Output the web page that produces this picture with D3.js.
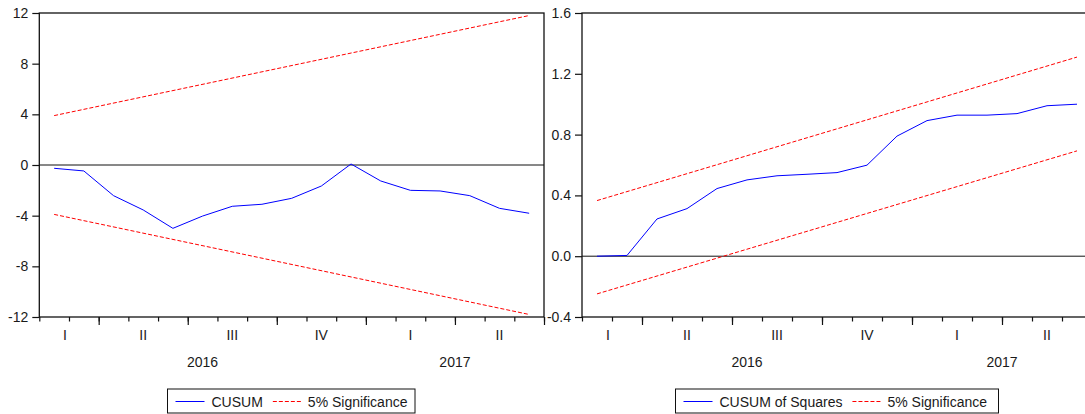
<!DOCTYPE html>
<html>
<head>
<meta charset="utf-8">
<script src="https://cdn.jsdelivr.net/npm/d3@7"></script>
<style>
  body { margin: 0; background: #fff; }
  svg { display: block; font-family: "Liberation Sans", Arial, sans-serif; }
</style>
</head>
<body>
<div id="chart"></div>
<script>
// months covered by the recursive residuals (Feb 2016 .. Jun 2017)
const months = [
  "2016-02", "2016-03", "2016-04", "2016-05", "2016-06", "2016-07", "2016-08", "2016-09",
  "2016-10", "2016-11", "2016-12", "2017-01", "2017-02", "2017-03", "2017-04", "2017-05", "2017-06"
];
const quarterNames = ["I", "II", "III", "IV"];

// CUSUM test
const cusum = [-0.26, -0.47, -2.42, -3.55, -5.0, -4.03, -3.26, -3.1, -2.63,
  -1.66, 0.08, -1.26, -2.0, -2.05, -2.42, -3.42, -3.81];
const cusumUpper = [3.9, 11.8];   // first and last month
const cusumLower = [-3.9, -11.8];

// CUSUM of squares test
const cusumSq = [0.0, 0.005, 0.245, 0.313, 0.445, 0.502, 0.529, 0.539, 0.55,
  0.599, 0.79, 0.892, 0.928, 0.928, 0.938, 0.99, 1.0];
const cusumSqUpper = [0.366, 1.31];
const cusumSqLower = [-0.248, 0.693];

const leftTicks = [-12, -8, -4, 0, 4, 8, 12];
const rightTicks = [-0.4, 0.0, 0.4, 0.8, 1.2, 1.6];

const width = 1085, height = 414;
const plotTop = 13, plotBottom = 317;
const font = 14;

const svg = d3.select("#chart").append("svg")
  .attr("width", width)
  .attr("height", height)
  .attr("viewBox", [0, 0, width, height]);

function drawPanel(opts) {
  const x = d3.scaleLinear().domain([0, months.length]).range([opts.left, opts.right]);
  const y = d3.scaleLinear().domain(opts.domain).range([plotBottom, plotTop]);
  const g = svg.append("g");

  // zero line
  g.append("line")
    .attr("x1", x(0)).attr("x2", x(months.length))
    .attr("y1", y(0)).attr("y2", y(0))
    .attr("stroke", "#111").attr("stroke-width", 1);

  // significance bounds (straight lines from first to last month)
  const ends = [0.5, months.length - 0.5];
  [opts.upper, opts.lower].forEach((b) => {
    g.append("line")
      .attr("x1", x(ends[0])).attr("y1", y(b[0]))
      .attr("x2", x(ends[1])).attr("y2", y(b[1]))
      .attr("stroke", "#ff0000").attr("stroke-width", 1)
      .attr("stroke-dasharray", "4,2");
  });

  // statistic
  const line = d3.line().x((d, i) => x(i + 0.5)).y((d) => y(d));
  g.append("path")
    .datum(opts.values)
    .attr("d", line)
    .attr("fill", "none")
    .attr("stroke", "#0000ff")
    .attr("stroke-width", 1);

  // frame
  g.append("rect")
    .attr("x", x(0)).attr("y", plotTop)
    .attr("width", x(months.length) - x(0)).attr("height", plotBottom - plotTop)
    .attr("fill", "none").attr("stroke", "#111").attr("stroke-width", 1.3);

  // y axis
  const yAxis = g.append("g")
    .attr("transform", `translate(${x(0)},0)`)
    .call(d3.axisLeft(y).tickValues(opts.ticks).tickSize(7).tickPadding(4)
      .tickFormat(opts.fmt));
  yAxis.select(".domain").remove();
  yAxis.selectAll("line").attr("stroke", "#111").attr("stroke-width", 1.2);
  yAxis.selectAll("text").attr("font-size", font).attr("fill", "#1a1a1a")
    .attr("font-family", "Liberation Sans, Arial, sans-serif");

  // x axis: month ticks and quarter ticks
  const bounds = d3.range(0, months.length + 1);
  const minor = g.append("g")
    .attr("transform", `translate(0,${plotBottom})`)
    .call(d3.axisBottom(x).tickValues(bounds).tickSize(4.5).tickFormat(""));
  const qStarts = bounds.filter((i) => {
    const m = i < months.length ? +months[i].slice(5) : 7;
    return (m - 1) % 3 === 0;
  });
  const major = g.append("g")
    .attr("transform", `translate(0,${plotBottom})`)
    .call(d3.axisBottom(x).tickValues(qStarts).tickSize(8).tickFormat(""));
  [minor, major].forEach((a) => {
    a.select(".domain").remove();
    a.selectAll("line").attr("stroke", "#111").attr("stroke-width", 1.2);
  });

  // quarter labels
  const quarters = d3.groups(months.map((m, i) => ({ m, i })),
    (d) => d.m.slice(0, 4) + "Q" + Math.floor((+d.m.slice(5) - 1) / 3));
  quarters.forEach(([key, items]) => {
    const q = +key.slice(5);
    const c = (x(items[0].i) + x(items[items.length - 1].i + 1)) / 2;
    g.append("text")
      .attr("x", items.length < 3 ? c - 4 : c)
      .attr("y", 340)
      .attr("text-anchor", "middle")
      .attr("font-size", font).attr("fill", "#1a1a1a")
      .text(quarterNames[q]);
  });

  // year labels
  const years = d3.groups(months.map((m, i) => ({ m, i })), (d) => d.m.slice(0, 4));
  years.forEach(([yr, items]) => {
    const c = (x(items[0].i) + x(items[items.length - 1].i + 1)) / 2;
    g.append("text")
      .attr("x", c)
      .attr("y", 367)
      .attr("text-anchor", "middle")
      .attr("font-size", font).attr("fill", "#1a1a1a")
      .text(yr);
  });

  // legend
  const lg = svg.append("g").attr("transform", `translate(${opts.legendX},389)`);
  lg.append("rect")
    .attr("width", opts.legendW).attr("height", 24)
    .attr("fill", "#fff").attr("stroke", "#111").attr("stroke-width", 1);
  lg.append("line").attr("x1", 8).attr("x2", 37).attr("y1", 12.5).attr("y2", 12.5)
    .attr("stroke", "#0000ff").attr("stroke-width", 1);
  const t1 = lg.append("text").attr("x", 44).attr("y", 17.5)
    .attr("font-size", font).attr("fill", "#1a1a1a").text(opts.name);
  const w1 = t1.node().getComputedTextLength();
  const rx = 44 + w1 + 10;
  lg.append("line").attr("x1", rx).attr("x2", rx + 29).attr("y1", 12.5).attr("y2", 12.5)
    .attr("stroke", "#ff0000").attr("stroke-width", 1).attr("stroke-dasharray", "4,2");
  lg.append("text").attr("x", rx + 35).attr("y", 17.5)
    .attr("font-size", font).attr("fill", "#1a1a1a").text("5% Significance");
}

drawPanel({
  left: 39.3, right: 544, domain: [-12, 12], ticks: leftTicks,
  fmt: (d) => String(d),
  values: cusum, upper: cusumUpper, lower: cusumLower,
  name: "CUSUM", legendX: 167.5, legendW: 247.5
});

drawPanel({
  left: 582, right: 1092, domain: [-0.4, 1.6], ticks: rightTicks,
  fmt: (d) => d.toFixed(1),
  values: cusumSq, upper: cusumSqUpper, lower: cusumSqLower,
  name: "CUSUM of Squares", legendX: 675.5, legendW: 323
});
</script>
</body>
</html>
